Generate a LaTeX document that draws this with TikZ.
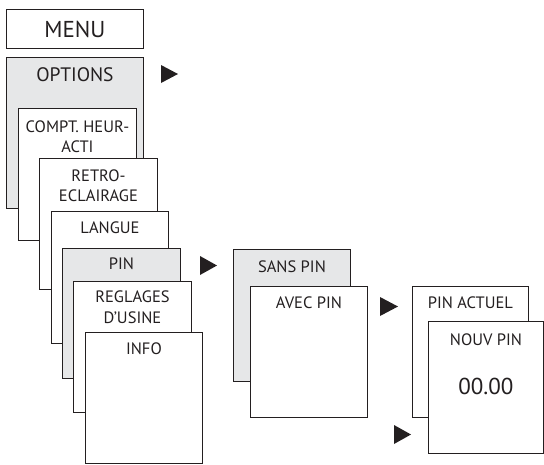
\documentclass[tikz,border=0pt]{standalone}
\usepackage{fontspec}
\setmainfont{PT Sans}
\definecolor{ink}{HTML}{231F20}
\definecolor{shade}{HTML}{E6E7E8}
\begin{document}
\begin{tikzpicture}[x=1pt,y=-1pt,
  box/.style={draw=ink, line width=0.9pt, fill=white, anchor=north west, inner sep=0pt},
  gbox/.style={box, fill=shade},
  lbl/.style={text=ink, font=\fontsize{16.5}{20.5}\selectfont, align=center, anchor=base, inner sep=0pt},
  big/.style={lbl, font=\fontsize{23}{26}\selectfont},
  tri/.style={fill=ink}]
\useasboundingbox (0,0) rectangle (544,464);
% left stack
\node[box, minimum width=137pt, minimum height=39pt] (menu) at (6,9) {};
\node[big] (tmenu) at (menu.north |- {(0,37)}) {MENU};
\node[gbox, minimum width=137pt, minimum height=151pt] (options) at (6,57) {};
\node[lbl, font=\fontsize{19.5}{24}\selectfont] (toptions) at (options.north |- {(0,81.5)}) {OPTIONS};
\node[box, minimum width=118pt, minimum height=132pt] (compt) at (18,108) {};
\node[lbl] (tcompt) at (compt.north |- {(0,152.5)}) {COMPT. HEUR-\\ACTI};
\node[box, minimum width=118pt, minimum height=131pt] (retro) at (39,158) {};
\node[lbl] (tretro) at (retro.north |- {(0,201.5)}) {RETRO-\\ECLAIRAGE};
\node[box, minimum width=117pt, minimum height=132pt] (langue) at (51,211) {};
\node[lbl] (tlangue) at (langue.north |- {(0,233)}) {LANGUE};
\node[gbox, minimum width=118pt, minimum height=130pt] (pin) at (62,248) {};
\node[lbl] (tpin) at (pin.north |- {(0,269)}) {PIN};
\node[box, minimum width=118pt, minimum height=131pt] (reglages) at (73,281) {};
\node[lbl] (treglages) at (reglages.north |- {(0,323)}) {REGLAGES\\D’USINE};
\node[box, minimum width=117pt, minimum height=131pt] (info) at (85,332) {};
\node[lbl] (tinfo) at (info.north |- {(0,354)}) {INFO};
% PIN submenu
\node[gbox, minimum width=117pt, minimum height=132pt] (sanspin) at (233,249) {};
\node[lbl] (tsanspin) at (sanspin.north |- {(0,272)}) {SANS PIN};
\node[box, minimum width=117pt, minimum height=131pt] (avecpin) at (250,286) {};
\node[lbl] (tavecpin) at (avecpin.north |- {(0,308)}) {AVEC PIN};
% AVEC PIN submenu
\node[box, minimum width=116pt, minimum height=131pt] (pinactuel) at (412,286) {};
\node[lbl] (tpinactuel) at (pinactuel.north |- {(0,308)}) {PIN ACTUEL};
\node[box, minimum width=115pt, minimum height=132pt] (nouvpin) at (428,321) {};
\node[lbl] (tnouvpin) at (nouvpin.north |- {(0,345)}) {NOUV PIN};
\node[big] (tvalue) at (nouvpin.north |- {(0,394.5)}) {00.00};
% arrows
\fill[tri] (161,65) -- (178,74) -- (161,83) -- cycle;
\fill[tri] (200,256) -- (217,265.5) -- (200,275) -- cycle;
\fill[tri] (380,297) -- (398,306.5) -- (380,316) -- cycle;
\fill[tri] (394,425) -- (411,434.5) -- (394,444) -- cycle;
\end{tikzpicture}
\end{document}
